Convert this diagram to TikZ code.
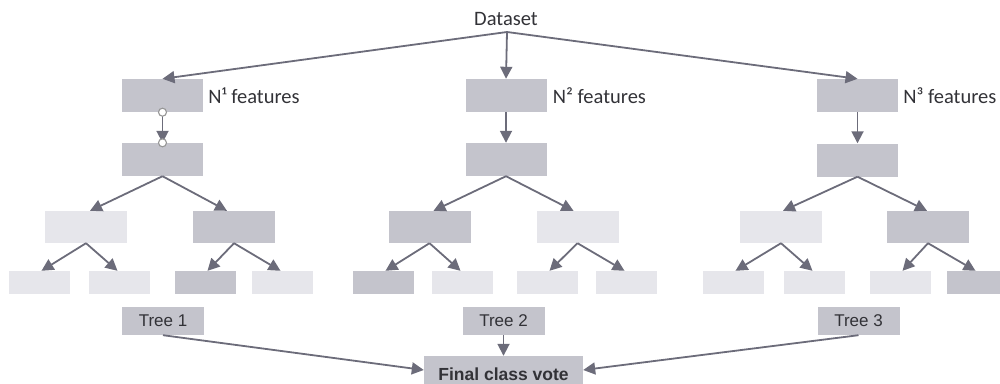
\documentclass[tikz,border=0pt]{standalone}
\usepackage{fontspec}
\setmainfont{Carlito}
\newfontfamily\arialf{Liberation Sans}
\usetikzlibrary{arrows.meta}
\definecolor{boxdark}{RGB}{196,196,204}
\definecolor{boxlight}{RGB}{230,230,235}
\definecolor{arrowc}{RGB}{108,108,122}
\definecolor{txtc}{RGB}{50,50,55}
\definecolor{circc}{RGB}{150,150,150}
\tikzset{
  bx/.style={inner sep=0pt, draw=none, minimum width=81pt, minimum height=33pt},
  dk/.style={bx, fill=boxdark},
  lt/.style={bx, fill=boxlight},
  leafd/.style={dk, minimum width=61pt, minimum height=23pt},
  leafl/.style={lt, minimum width=61pt, minimum height=23pt},
  lvl3d/.style={dk, minimum width=82pt, minimum height=32pt},
  lvl3l/.style={lt, minimum width=82pt, minimum height=32pt},
  treelab/.style={dk, minimum width=82pt, minimum height=28pt, font=\arialf\fontsize{17}{19}\selectfont, text=txtc},
  featlab/.style={anchor=west, inner sep=0pt, font=\fontsize{20.5}{22}\selectfont, text=txtc},
  arr/.style={draw=arrowc, line width=1.8pt, -{Triangle[length=12pt,width=12pt]}},
  conn/.style={circle, draw=circc, fill=white, line width=1.1pt, minimum size=8pt, inner sep=0pt}
}
\begin{document}
\begin{tikzpicture}[x=1pt,y=-1pt]
\useasboundingbox (0,0) rectangle (1000,383);
\clip (0,0) rectangle (1000,383);
% Dataset
\node[inner sep=0pt, font=\fontsize{20.5}{22}\selectfont, text=txtc] (dset) at (506,19) {Dataset};
\coordinate (dsrc) at (507,32);
% Tree 1
\node[dk] (r1) at (162.5,95.5) {};
\node[dk] (s1) at (162.5,159.5) {};
\node[lvl3l] (a1) at (86,227) {};
\node[lvl3d] (b1) at (234,227) {};
\node[leafl] (c1) at (39.5,282.5) {};
\node[leafl] (d1) at (119.5,282.5) {};
\node[leafd] (e1) at (205.5,282.5) {};
\node[leafl] (f1) at (282.5,282.5) {};
\node[treelab] (t1) at (163,321) {Tree 1};
\node[featlab] (n1) at ([xshift=5pt]r1.east) {N¹ features};
% Tree 2
\node[dk] (r2) at (506,95.5) {};
\node[dk] (s2) at (506,159.5) {};
\node[lvl3d] (a2) at (429.5,227) {};
\node[lvl3l] (b2) at (577.5,227) {};
\node[leafd] (c2) at (383.5,282.5) {};
\node[leafl] (d2) at (462.5,282.5) {};
\node[leafl] (e2) at (547.5,282.5) {};
\node[leafl] (f2) at (626.5,282.5) {};
\node[treelab] (t2) at (503.5,321) {Tree 2};
\node[featlab] (n2) at ([xshift=6pt]r2.east) {N² features};
% Tree 3
\node[dk] (r3) at (857.5,95.5) {};
\node[dk] (s3) at (857.5,160) {};
\node[lvl3l] (a3) at (781,227) {};
\node[lvl3d] (b3) at (928,227) {};
\node[leafl] (c3) at (733.5,282.5) {};
\node[leafl] (d3) at (814.5,282.5) {};
\node[leafl] (e3) at (900.5,282.5) {};
\node[leafd] (f3) at (977.5,282.5) {};
\node[treelab] (t3) at (858.5,321) {Tree 3};
\node[featlab] (n3) at ([xshift=5pt]r3.east) {N³ features};
% Final vote
\node[dk, minimum width=159pt, minimum height=36pt, font=\arialf\bfseries\fontsize{17.5}{19}\selectfont, text=txtc] (fv) at (503.5,374) {Final class vote};
% Arrows from dataset
\draw[arr] (dsrc) -- (r1.north);
\draw[arr] (dsrc) -- (r2.north);
\draw[arr] (dsrc) -- (r3.north);
% Tree 1 arrows
\draw[arr] (r1.south) -- (s1.north);
\node[conn] (k1) at (r1.south) {};
\node[conn] (k2) at (s1.north) {};
\draw[arr] (s1.south) -- ([xshift=4pt]a1.north);
\draw[arr] (s1.south) -- ([xshift=-7pt]b1.north);
\draw[arr] (a1.south) -- ([xshift=2pt]c1.north);
\draw[arr] (a1.south) -- ([xshift=-2pt]d1.north);
\draw[arr] (b1.south) -- ([xshift=2pt]e1.north);
\draw[arr] (b1.south) -- ([xshift=-2pt]f1.north);
% Tree 2 arrows
\draw[arr] (r2.south) -- (s2.north);
\draw[arr] (s2.south) -- ([xshift=4pt]a2.north);
\draw[arr] (s2.south) -- ([xshift=-4pt]b2.north);
\draw[arr] (a2.south) -- ([xshift=2pt]c2.north);
\draw[arr] (a2.south) -- ([xshift=-2pt]d2.north);
\draw[arr] (b2.south) -- ([xshift=2pt]e2.north);
\draw[arr] (b2.south) -- ([xshift=-2pt]f2.north);
% Tree 3 arrows
\draw[arr] (r3.south) -- (s3.north);
\draw[arr] (s3.south) -- ([xshift=2pt]a3.north);
\draw[arr] (s3.south) -- ([xshift=-1pt]b3.north);
\draw[arr] (a3.south) -- ([xshift=2pt]c3.north);
\draw[arr] (a3.south) -- ([xshift=-2pt]d3.north);
\draw[arr] (b3.south) -- ([xshift=2pt]e3.north);
\draw[arr] (b3.south) -- ([xshift=-2pt]f3.north);
% Trees to final vote
\draw[arr] (t1.south) -- ([yshift=4pt]fv.west);
\draw[arr] (t2.south) -- (t2.south |- fv.north);
\draw[arr] (t3.south) -- ([yshift=4pt]fv.east);
\end{tikzpicture}
\end{document}
